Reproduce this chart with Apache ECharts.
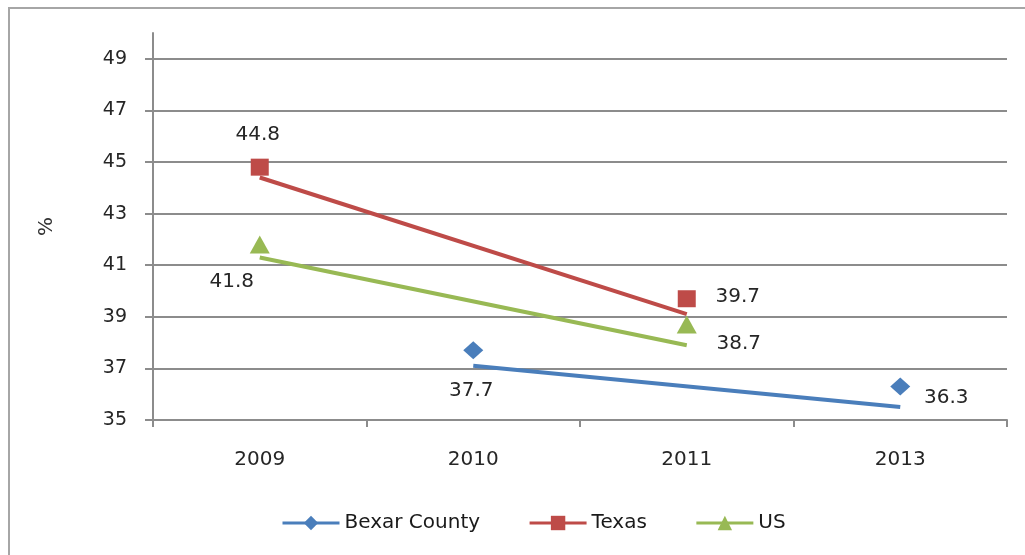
<!DOCTYPE html>
<html>
<head>
<meta charset="utf-8">
<script src="https://cdn.jsdelivr.net/npm/echarts@6/dist/echarts.min.js"></script>
<style>
html,body{margin:0;padding:0;background:#fff;}
#chart{width:1025px;height:555px;}
</style>
</head>
<body>
<div id="chart"></div>
<script>
// ---- data ----
const years = ['2009', '2010', '2011', '2013'];
const bexarValues = [null, 37.7, null, 36.3];
const texasValues = [44.8, null, 39.7, null];
const usValues = [41.8, null, 38.7, null];
// trend lines as drawn in the picture
const bexarTrend = [null, 37.1, null, 35.5];
const texasTrend = [44.4, null, 39.1, null];
const usTrend = [41.3, null, 37.9, null];
const yTicks = [35, 37, 39, 41, 43, 45, 47, 49];
const seriesNames = ['Bexar County', 'Texas', 'US'];

// ---- styles ----
const colors = ['#4A7EBB', '#BE4B48', '#98B954'];
const symbols = ['diamond', 'rect', 'triangle'];
const symbolSizes = [[20, 18], [18, 17], [20, 18]];
const labelOffsets = [
  [null, [-2, 40], null, [46, 11]],
  [[-2, -32], null, [51, -2], null],
  [[-28, 37], null, [52, 19], null]
];
const FONT = 'DejaVu Sans';

const values = [bexarValues, texasValues, usValues];
const trends = [bexarTrend, texasTrend, usTrend];

const chart = echarts.init(document.getElementById('chart'), null, {renderer: 'canvas'});

const series = [];
seriesNames.forEach((name, i) => {
  series.push({
    name: name,
    type: 'line',
    data: trends[i],
    connectNulls: true,
    symbol: symbols[i],
    symbolSize: 14,
    showSymbol: false,
    silent: true,
    z: 2,
    itemStyle: {color: colors[i], opacity: 1},
    lineStyle: {color: colors[i], width: 4}
  });
});
seriesNames.forEach((name, i) => {
  series.push({
    name: name,
    type: 'scatter',
    symbol: symbols[i],
    symbolSize: symbolSizes[i],
    z: 3,
    itemStyle: {color: colors[i], opacity: 1},
    data: values[i].map((v, j) => v === null ? null : {
      value: v,
      label: {offset: labelOffsets[i][j]}
    }),
    label: {
      show: true,
      position: 'inside',
      color: '#262626',
      fontFamily: FONT,
      fontSize: 20,
      formatter: p => p.value.toFixed(1)
    }
  });
});

chart.setOption({
  backgroundColor: '#fff',
  animation: false,
  graphic: [{
    type: 'rect',
    z: -10,
    shape: {x: 9, y: 8, width: 1100, height: 700},
    style: {fill: 'none', stroke: '#a6a6a6', lineWidth: 2}
  }],
  grid: {left: 153, right: 18, top: 33, bottom: 135, containLabel: false},
  legend: {
    bottom: 17,
    left: 276,
    itemWidth: 57,
    itemHeight: 18,
    itemGap: 48,
    data: seriesNames,
    lineStyle: {width: 3},
    textStyle: {fontFamily: FONT, fontSize: 20, color: '#1a1a1a'}
  },
  xAxis: {
    type: 'category',
    data: years,
    boundaryGap: true,
    axisLine: {lineStyle: {color: '#8c8c8c', width: 2}},
    axisTick: {show: true, alignWithLabel: false, length: 7, lineStyle: {color: '#8c8c8c', width: 2}},
    axisLabel: {margin: 30, color: '#262626', fontFamily: FONT, fontSize: 20},
    splitLine: {show: false}
  },
  yAxis: {
    type: 'value',
    min: 35,
    max: 50,
    interval: 2,
    name: '%',
    nameLocation: 'middle',
    nameRotate: 90,
    nameGap: 96,
    nameTextStyle: {color: '#333', fontFamily: FONT, fontSize: 20},
    axisLine: {show: true, lineStyle: {color: '#8c8c8c', width: 2}},
    axisTick: {show: true, inside: false, length: 8, customValues: yTicks, lineStyle: {color: '#8c8c8c', width: 2}},
    axisLabel: {margin: 26, customValues: yTicks, color: '#262626', fontFamily: FONT, fontSize: 19},
    splitLine: {show: true, lineStyle: {color: '#8c8c8c', width: 2}}
  },
  series: series
});
</script>
</body>
</html>
